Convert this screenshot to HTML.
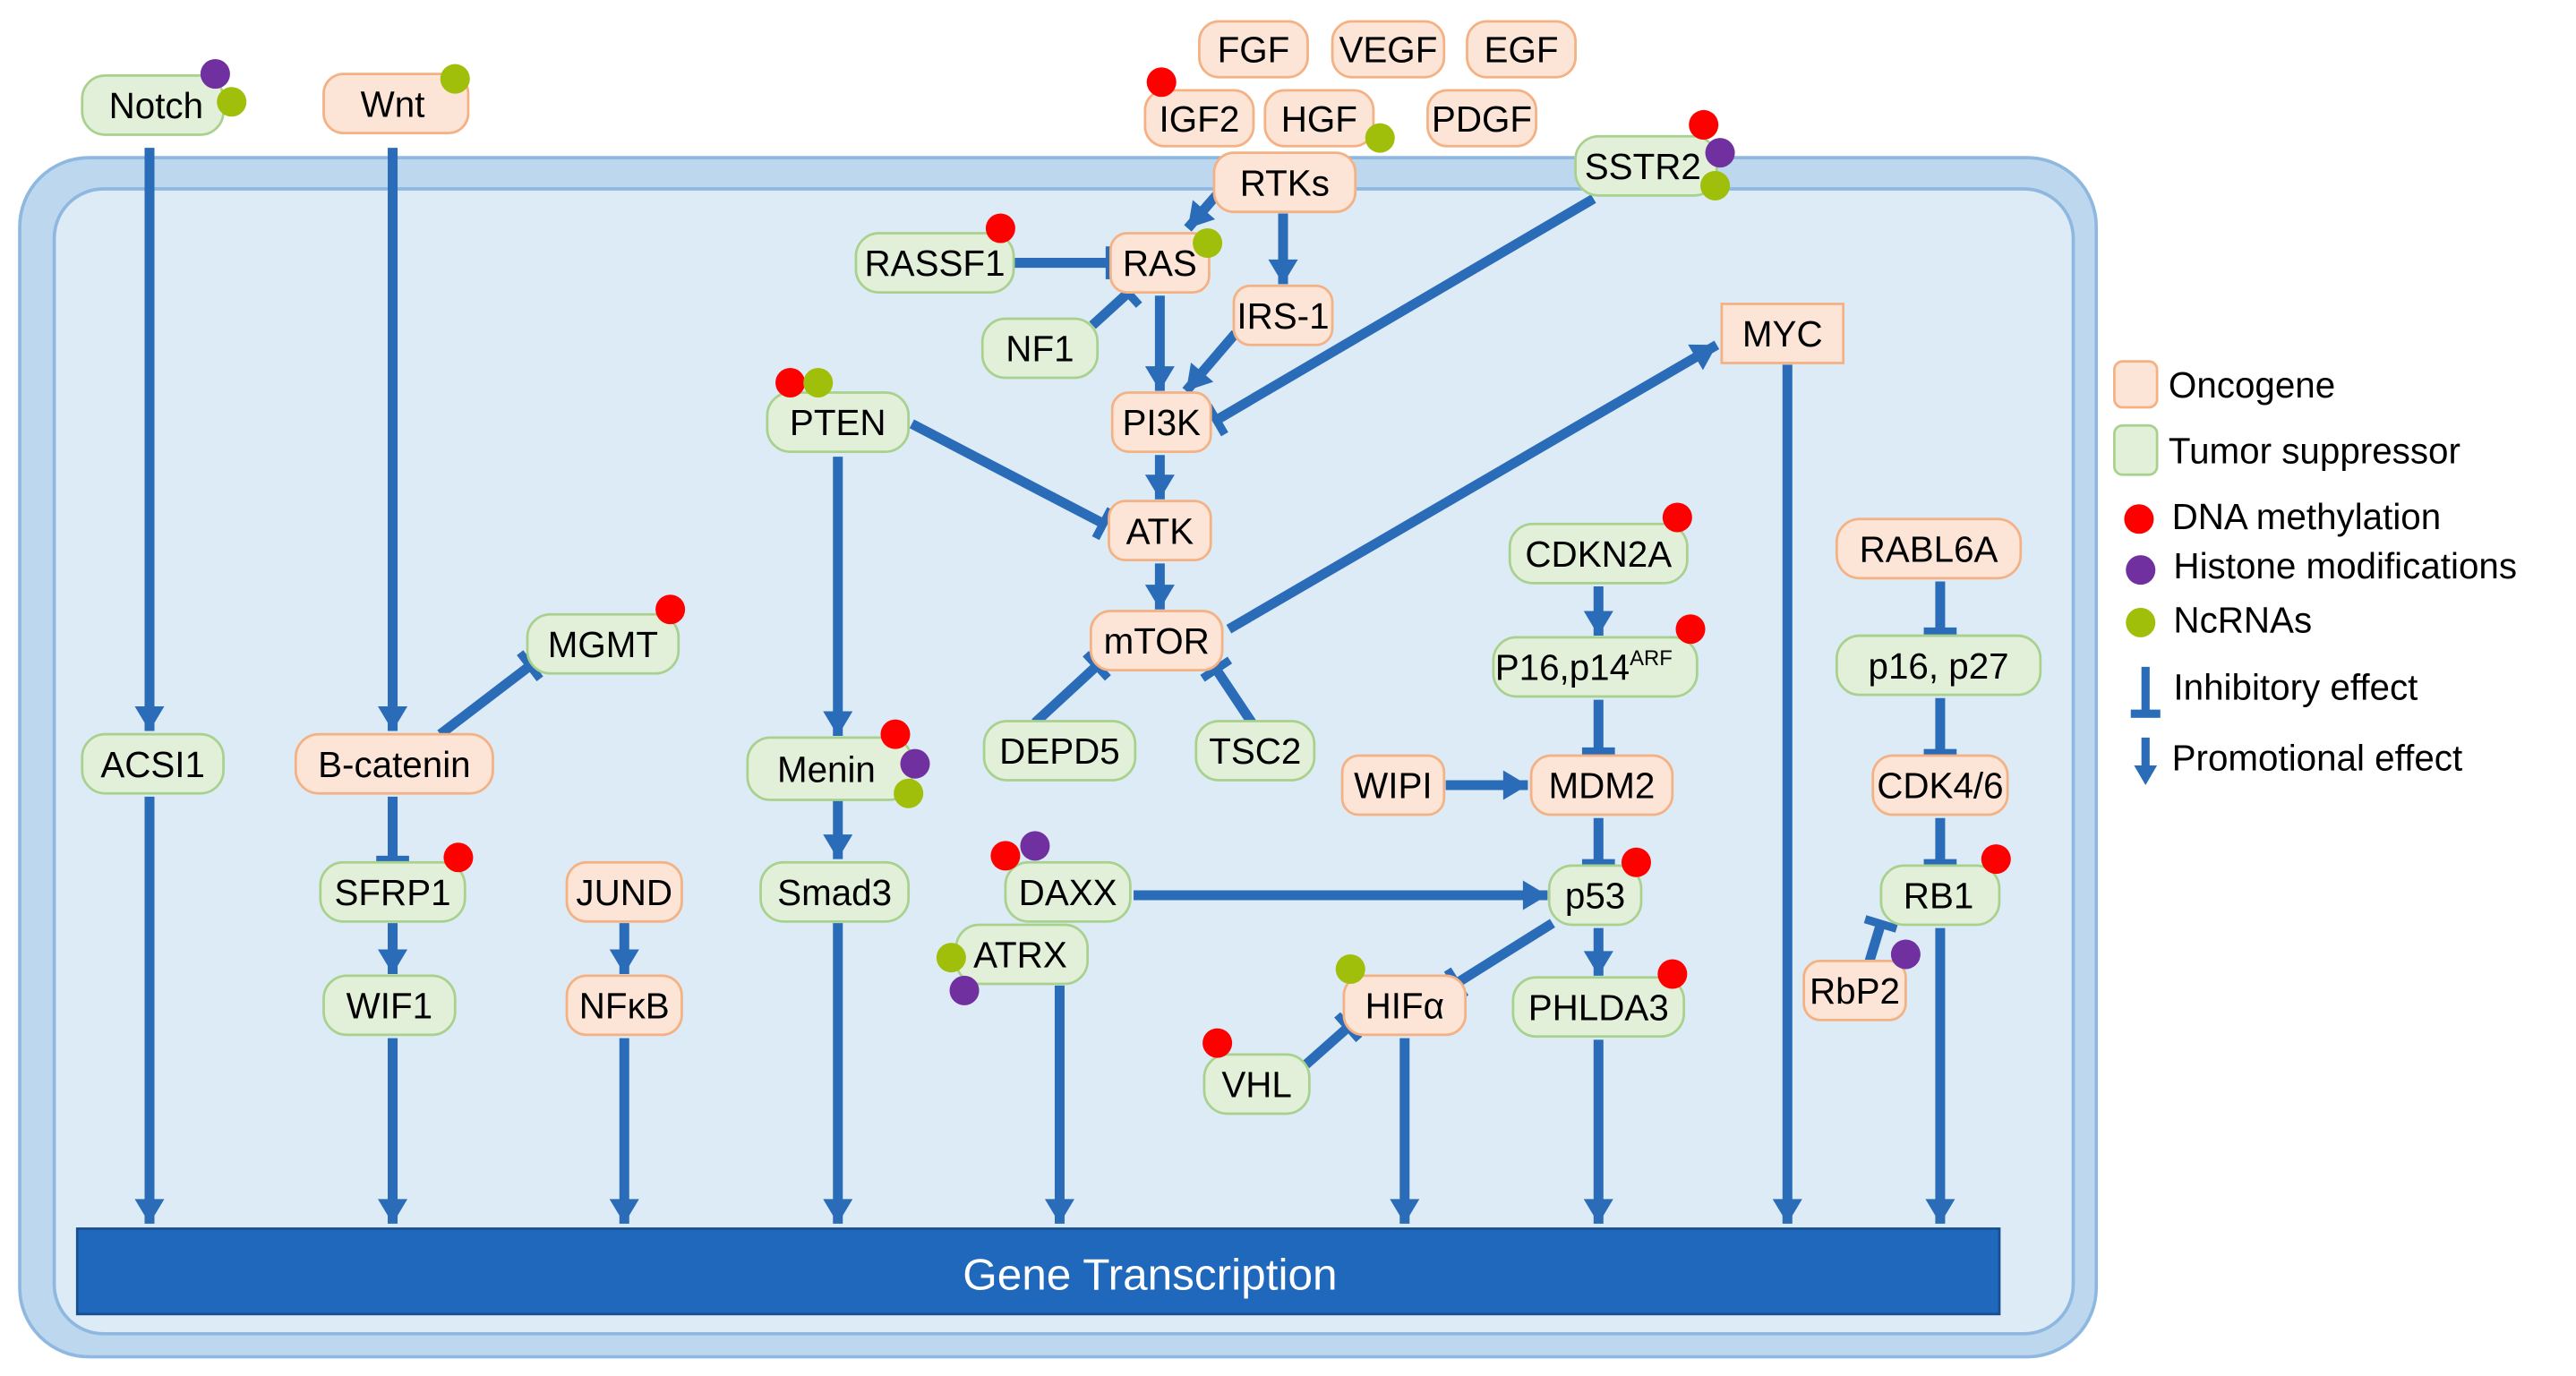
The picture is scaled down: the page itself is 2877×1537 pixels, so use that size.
<!DOCTYPE html>
<html><head><meta charset="utf-8"><style>
html,body{margin:0;padding:0;background:#fff;}
svg{display:block;}
text{font-family:"Liberation Sans Narrow","Liberation Sans",sans-serif;}
</style></head><body>
<svg width="2877" height="1537" viewBox="0 0 1568 837.7" xmlns="http://www.w3.org/2000/svg">
<defs>
<marker id="a" markerUnits="userSpaceOnUse" markerWidth="22" markerHeight="22" viewBox="-16 -11 18 22" refX="0" refY="0" orient="auto"><path d="M-15,-9 L0,0 L-15,9 z" fill="#2a6cb8"/></marker>
<marker id="t" markerUnits="userSpaceOnUse" markerWidth="20" markerHeight="24" viewBox="-4 -12 8 24" refX="0" refY="0" orient="auto"><rect x="-3" y="-10" width="5" height="20" fill="#2a6cb8"/></marker>
</defs>
<rect x="12" y="96" width="1264" height="730" rx="42" fill="#bdd7ee" stroke="#8fb8e0" stroke-width="2"/>
<rect x="33" y="115" width="1229" height="697" rx="30" fill="#ddebf7" stroke="#8fb8e0" stroke-width="2"/>
<rect x="47" y="748" width="1170" height="52" fill="#1f68bc" stroke="#174f90" stroke-width="1.5"/>
<text x="700" y="785" font-size="27" fill="#fff" text-anchor="middle" font-family="Liberation Sans,sans-serif">Gene Transcription</text>

<g stroke="#2a6cb8" stroke-width="6" fill="none">
<line x1="91" y1="90" x2="91" y2="445" marker-end="url(#a)"/>
<line x1="91" y1="485" x2="91" y2="745" marker-end="url(#a)"/>
<line x1="239" y1="90" x2="239" y2="445" marker-end="url(#a)"/>
<line x1="239" y1="485" x2="239" y2="524" marker-end="url(#t)"/>
<line x1="239" y1="562" x2="239" y2="593" marker-end="url(#a)"/>
<line x1="239" y1="632" x2="239" y2="745" marker-end="url(#a)"/>
<line x1="268" y1="447" x2="323" y2="405" marker-end="url(#t)"/>
<line x1="380" y1="562" x2="380" y2="593" marker-end="url(#a)"/>
<line x1="380" y1="632" x2="380" y2="745" marker-end="url(#a)"/>
<line x1="510" y1="278" x2="510" y2="448" marker-end="url(#a)"/>
<line x1="510" y1="487" x2="510" y2="523" marker-end="url(#a)"/>
<line x1="510" y1="562" x2="510" y2="745" marker-end="url(#a)"/>
<line x1="555" y1="258" x2="672" y2="319" marker-end="url(#t)"/>
<line x1="742" y1="117" x2="723" y2="139" marker-end="url(#a)"/>
<line x1="781" y1="130" x2="781" y2="173" marker-end="url(#a)"/>
<line x1="617" y1="160" x2="676" y2="160" marker-end="url(#t)"/>
<line x1="665" y1="198" x2="687" y2="178" marker-end="url(#t)"/>
<line x1="706" y1="180" x2="706" y2="238" marker-end="url(#a)"/>
<line x1="752" y1="203" x2="722" y2="238" marker-end="url(#a)"/>
<line x1="970" y1="121" x2="740" y2="256" marker-end="url(#t)"/>
<line x1="706" y1="277" x2="706" y2="304" marker-end="url(#a)"/>
<line x1="706" y1="343" x2="706" y2="371" marker-end="url(#a)"/>
<line x1="748" y1="383" x2="1045" y2="210" marker-end="url(#a)"/>
<line x1="630" y1="440" x2="668" y2="405" marker-end="url(#t)"/>
<line x1="762" y1="440" x2="740" y2="407" marker-end="url(#t)"/>
<line x1="1088" y1="222" x2="1088" y2="745" marker-end="url(#a)"/>
<line x1="973" y1="357" x2="973" y2="387" marker-end="url(#a)"/>
<line x1="973" y1="426" x2="973" y2="458" marker-end="url(#t)"/>
<line x1="880" y1="478" x2="930" y2="478" marker-end="url(#a)"/>
<line x1="973" y1="498" x2="973" y2="526" marker-end="url(#t)"/>
<line x1="690" y1="545" x2="942" y2="545" marker-end="url(#a)"/>
<line x1="945" y1="562" x2="886" y2="599" marker-end="url(#t)"/>
<line x1="973" y1="565" x2="973" y2="594" marker-end="url(#a)"/>
<line x1="973" y1="633" x2="973" y2="745" marker-end="url(#a)"/>
<line x1="855" y1="632" x2="855" y2="745" marker-end="url(#a)"/>
<line x1="795" y1="648" x2="821" y2="625" marker-end="url(#t)"/>
<line x1="645" y1="600" x2="645" y2="745" marker-end="url(#a)"/>
<line x1="1181" y1="354" x2="1181" y2="385" marker-end="url(#t)"/>
<line x1="1181" y1="425" x2="1181" y2="459" marker-end="url(#t)"/>
<line x1="1181" y1="498" x2="1181" y2="526" marker-end="url(#t)"/>
<line x1="1138" y1="585" x2="1145" y2="562" marker-end="url(#t)"/>
<line x1="1181" y1="565" x2="1181" y2="745" marker-end="url(#a)"/>
</g>

<g font-size="22" text-anchor="middle">
<g fill="#fce4d6" stroke="#f4b183" stroke-width="1.5">
<rect x="197" y="45" width="88" height="36" rx="12"/>
<rect x="730" y="13" width="66" height="34" rx="12"/>
<rect x="811" y="13" width="68" height="34" rx="12"/>
<rect x="893" y="13" width="66" height="34" rx="12"/>
<rect x="697" y="55" width="66" height="34" rx="12"/>
<rect x="770" y="55" width="66" height="34" rx="12"/>
<rect x="869" y="55" width="66" height="34" rx="12"/>
<rect x="739" y="93" width="86" height="36" rx="12"/>
<rect x="676" y="142" width="60" height="36" rx="10"/>
<rect x="751" y="174" width="60" height="36" rx="10"/>
<rect x="1048" y="185" width="74" height="36"/>
<rect x="677" y="239" width="60" height="36" rx="10"/>
<rect x="675" y="305" width="62" height="36" rx="10"/>
<rect x="1118" y="316" width="112" height="36" rx="14"/>
<rect x="664" y="372" width="80" height="36" rx="12"/>
<rect x="180" y="447" width="120" height="36" rx="14"/>
<rect x="817" y="460" width="62" height="36" rx="10"/>
<rect x="932" y="460" width="86" height="36" rx="12"/>
<rect x="1140" y="460" width="82" height="36" rx="12"/>
<rect x="345" y="525" width="70" height="36" rx="12"/>
<rect x="345" y="594" width="70" height="36" rx="12"/>
<rect x="818" y="594" width="74" height="36" rx="12"/>
<rect x="1098" y="585" width="62" height="36" rx="10"/>
</g>
<g fill="#e2f0d9" stroke="#a9d18e" stroke-width="1.5">
<rect x="50" y="46" width="86" height="36" rx="14"/>
<rect x="959" y="83" width="86" height="36" rx="14"/>
<rect x="521" y="142" width="96" height="36" rx="14"/>
<rect x="598" y="194" width="70" height="36" rx="14"/>
<rect x="467" y="239" width="86" height="36" rx="14"/>
<rect x="919" y="319" width="108" height="36" rx="14"/>
<rect x="909" y="388" width="124" height="36" rx="14"/>
<rect x="1118" y="387" width="124" height="36" rx="14"/>
<rect x="321" y="374" width="92" height="36" rx="14"/>
<rect x="50" y="447" width="86" height="36" rx="14"/>
<rect x="455" y="449" width="100" height="38" rx="14"/>
<rect x="599" y="439" width="92" height="36" rx="14"/>
<rect x="728" y="439" width="72" height="36" rx="14"/>
<rect x="195" y="525" width="88" height="36" rx="14"/>
<rect x="463" y="525" width="90" height="36" rx="14"/>
<rect x="612" y="525" width="76" height="36" rx="14"/>
<rect x="943" y="527" width="56" height="36" rx="14"/>
<rect x="1145" y="527" width="72" height="36" rx="14"/>
<rect x="197" y="594" width="80" height="36" rx="14"/>
<rect x="582" y="563" width="80" height="36" rx="14"/>
<rect x="921" y="595" width="104" height="36" rx="14"/>
<rect x="733" y="642" width="64" height="36" rx="14"/>
</g>
<g fill="#000">
<text x="95" y="72">Notch</text>
<text x="239" y="71">Wnt</text>
<text x="763" y="38">FGF</text>
<text x="845" y="38">VEGF</text>
<text x="926" y="38">EGF</text>
<text x="730" y="80">IGF2</text>
<text x="803" y="80">HGF</text>
<text x="902" y="80">PDGF</text>
<text x="782" y="119">RTKs</text>
<text x="1000" y="109">SSTR2</text>
<text x="569" y="168">RASSF1</text>
<text x="706" y="168">RAS</text>
<text x="633" y="220">NF1</text>
<text x="781" y="200">IRS-1</text>
<text x="1085" y="211">MYC</text>
<text x="510" y="265">PTEN</text>
<text x="707" y="265">PI3K</text>
<text x="706" y="331">ATK</text>
<text x="973" y="345">CDKN2A</text>
<text x="1174" y="342">RABL6A</text>
<text x="704" y="398">mTOR</text>
<text x="964" y="414">P16,p14<tspan font-size="13" dy="-9">ARF</tspan></text>
<text x="1180" y="413">p16, p27</text>
<text x="367" y="400">MGMT</text>
<text x="93" y="473">ACSI1</text>
<text x="240" y="473">B-catenin</text>
<text x="503" y="476">Menin</text>
<text x="645" y="465">DEPD5</text>
<text x="764" y="465">TSC2</text>
<text x="848" y="486">WIPI</text>
<text x="975" y="486">MDM2</text>
<text x="1181" y="486">CDK4/6</text>
<text x="239" y="551">SFRP1</text>
<text x="380" y="551">JUND</text>
<text x="508" y="551">Smad3</text>
<text x="650" y="551">DAXX</text>
<text x="971" y="553">p53</text>
<text x="1180" y="553">RB1</text>
<text x="237" y="620">WIF1</text>
<text x="380" y="620">NFκB</text>
<text x="621" y="589">ATRX</text>
<text x="855" y="620">HIFα</text>
<text x="973" y="621">PHLDA3</text>
<text x="1129" y="611">RbP2</text>
<text x="765" y="668">VHL</text>
</g>
</g>

<g>
<circle cx="131" cy="45" r="9" fill="#7030a0"/><circle cx="141" cy="62" r="9" fill="#9fbf0a"/>
<circle cx="277" cy="48" r="9" fill="#9fbf0a"/>
<circle cx="707" cy="50" r="9" fill="#ff0000"/>
<circle cx="840" cy="84" r="9" fill="#9fbf0a"/>
<circle cx="1037" cy="76" r="9" fill="#ff0000"/><circle cx="1047" cy="93" r="9" fill="#7030a0"/><circle cx="1044" cy="113" r="9" fill="#9fbf0a"/>
<circle cx="609" cy="139" r="9" fill="#ff0000"/>
<circle cx="735" cy="148" r="9" fill="#9fbf0a"/>
<circle cx="481" cy="233" r="9" fill="#ff0000"/><circle cx="498" cy="233" r="9" fill="#9fbf0a"/>
<circle cx="408" cy="371" r="9" fill="#ff0000"/>
<circle cx="545" cy="447" r="9" fill="#ff0000"/><circle cx="557" cy="465" r="9" fill="#7030a0"/><circle cx="553" cy="483" r="9" fill="#9fbf0a"/>
<circle cx="1021" cy="315" r="9" fill="#ff0000"/>
<circle cx="1029" cy="383" r="9" fill="#ff0000"/>
<circle cx="279" cy="522" r="9" fill="#ff0000"/>
<circle cx="612" cy="521" r="9" fill="#ff0000"/><circle cx="630" cy="515" r="9" fill="#7030a0"/>
<circle cx="579" cy="583" r="9" fill="#9fbf0a"/><circle cx="587" cy="603" r="9" fill="#7030a0"/>
<circle cx="822" cy="590" r="9" fill="#9fbf0a"/>
<circle cx="996" cy="525" r="9" fill="#ff0000"/>
<circle cx="1018" cy="593" r="9" fill="#ff0000"/>
<circle cx="741" cy="635" r="9" fill="#ff0000"/>
<circle cx="1215" cy="523" r="9" fill="#ff0000"/>
<circle cx="1160" cy="581" r="9" fill="#7030a0"/>
</g>

<g font-size="22" fill="#000">
<rect x="1287" y="220" width="26" height="28" rx="5" fill="#fce4d6" stroke="#f4b183" stroke-width="1.5"/>
<text x="1320" y="242">Oncogene</text>
<rect x="1287" y="259" width="26" height="30" rx="5" fill="#e2f0d9" stroke="#a9d18e" stroke-width="1.5"/>
<text x="1320" y="282">Tumor suppressor</text>
<circle cx="1302" cy="316" r="9" fill="#ff0000"/><text x="1322" y="322">DNA methylation</text>
<circle cx="1303" cy="347" r="9" fill="#7030a0"/><text x="1323" y="352">Histone modifications</text>
<circle cx="1303" cy="379" r="9" fill="#9fbf0a"/><text x="1323" y="385">NcRNAs</text>
<line x1="1306" y1="406" x2="1306" y2="434" stroke="#2a6cb8" stroke-width="5"/>
<rect x="1297" y="432" width="18" height="5" fill="#2a6cb8"/>
<text x="1323" y="426">Inhibitory effect</text>
<line x1="1306" y1="449" x2="1306" y2="468" stroke="#2a6cb8" stroke-width="5"/>
<path d="M1299,466 L1313,466 L1306,478 z" fill="#2a6cb8"/>
<text x="1322" y="469">Promotional effect</text>
</g>
</svg>
</body></html>
